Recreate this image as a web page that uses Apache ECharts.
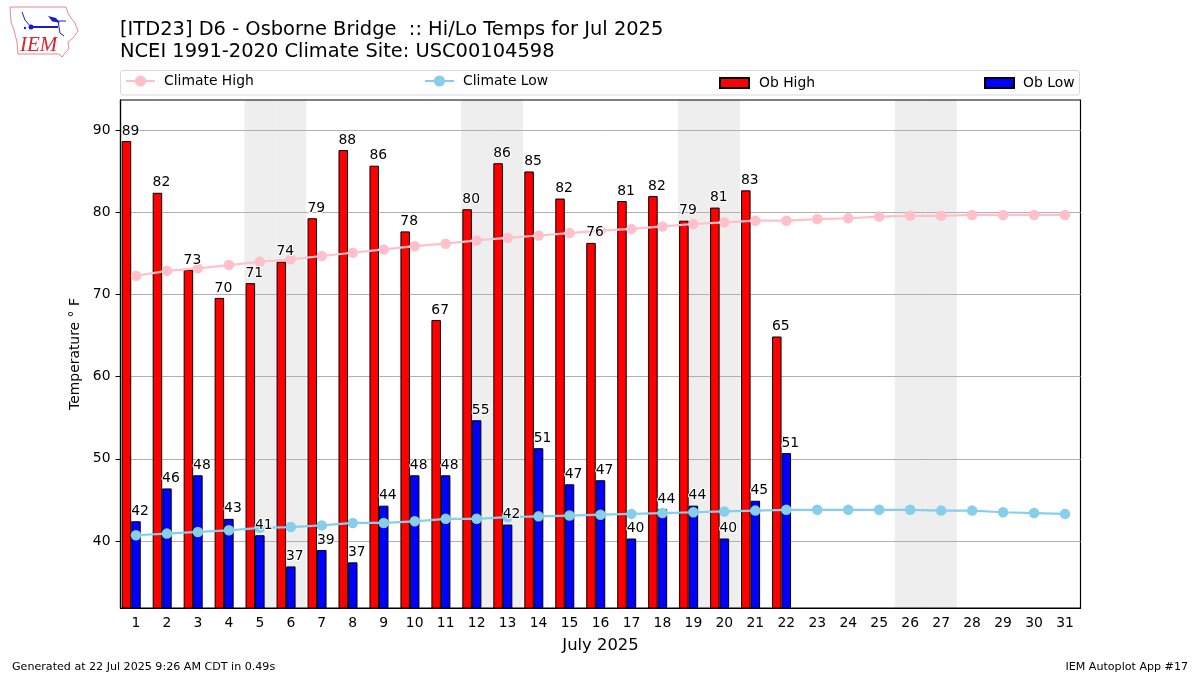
<!DOCTYPE html>
<html>
<head>
<meta charset="utf-8">
<script src="https://cdn.jsdelivr.net/npm/echarts@6/dist/echarts.min.js"></script>
<style>
html, body { margin: 0; padding: 0; background: #fff; }
#chart { width: 1200px; height: 675px; }
</style>
</head>
<body>
<div id="chart"></div>
<script>
var days = ['1','2','3','4','5','6','7','8','9','10','11','12','13','14','15','16','17','18','19','20','21','22','23','24','25','26','27','28','29','30','31'];
var obHigh = [88.7,82.4,73.0,69.6,71.4,74.0,79.3,87.6,85.7,77.7,66.9,80.4,86.0,85.0,81.7,76.3,81.4,82.0,79.0,80.6,82.7,64.9];
var obLow = [42.4,46.4,48.0,42.7,40.7,36.9,38.9,37.4,44.3,48.0,48.0,54.7,42.0,51.3,46.9,47.4,40.3,43.9,44.3,40.3,44.9,50.7];
var climateHigh = [72.3,72.9,73.2,73.6,74.0,74.3,74.7,75.1,75.5,75.9,76.2,76.6,76.9,77.2,77.5,77.8,78.0,78.3,78.6,78.8,79.0,79.0,79.2,79.3,79.5,79.6,79.6,79.7,79.7,79.7,79.7];
var climateLow = [40.7,40.9,41.1,41.3,41.6,41.7,41.9,42.2,42.2,42.4,42.7,42.7,42.9,43.0,43.1,43.2,43.3,43.4,43.5,43.6,43.7,43.8,43.8,43.8,43.8,43.8,43.7,43.7,43.5,43.4,43.3];
var weekendDays = ['5','6','12','13','19','20','26','27'];
var yTicks = [40,50,60,70,80,90];
var yMin = 31.84;
var yMax = 93.7;

var FONT = 'DejaVu Sans';
var BAR_WIDTH = 9.5;

// weekend bands: one full width bar per weekend day on a hidden category axis
var weekendValues = days.map(function(d) {
	return weekendDays.indexOf(d) >= 0 ? yMax : null;
});

// value labels sit above the climate lines, so they get their own invisible series
function labelSeries(name, values, dx) {
	return {
		name: name,
		type: 'scatter',
		data: values,
		symbolSize: 0,
		silent: true,
		z: 4,
		itemStyle: { opacity: 1 },
		label: {
			show: true,
			position: 'top',
			distance: 3,
			offset: [dx, 0],
			fontFamily: FONT,
			fontSize: 13.9,
			color: '#000',
			opacity: 1,
			textBorderColor: '#fff',
			textBorderWidth: 2,
			formatter: function(p) { return Math.round(p.value[1] === undefined ? p.value : p.value[1]); }
		}
	};
}

function legendItem(name, left, top, height, icon, textPad) {
	var item = {
		data: [{ name: name, icon: icon }],
		left: left,
		top: top,
		padding: 0,
		itemWidth: 29,
		itemHeight: height,
		itemGap: 0,
		selectedMode: false,
		textStyle: { fontFamily: FONT, fontSize: 13.9, color: '#000', padding: textPad }
	};
	return item;
}

var chart = echarts.init(document.getElementById('chart'), null, { renderer: 'canvas' });

chart.setOption({
	animation: false,
	backgroundColor: '#fff',
	title: {
		text: '[ITD23] D6 - Osborne Bridge  :: Hi/Lo Temps for Jul 2025\nNCEI 1991-2020 Climate Site: USC00104598',
		left: 120,
		top: 18.5,
		padding: 0,
		textStyle: { fontFamily: FONT, fontSize: 19.45, fontWeight: 'normal', color: '#000', lineHeight: 22.5 }
	},
	legend: [
		legendItem('Climate High', 125, 74, 14, undefined, [2, 0, 0, 4]),
		legendItem('Climate Low', 424, 74, 14, undefined, [2, 0, 0, 4]),
		legendItem('Ob High', 719, 76, 10, 'rect', [0, 0, 0, 5]),
		legendItem('Ob Low', 984, 76, 10, 'rect', [0, 0, 0, 4])
	],
	grid: {
		left: 120.5, top: 100, width: 960, height: 508,
		show: true,
		borderColor: '#000',
		borderWidth: 1.2,
		backgroundColor: 'transparent'
	},
	xAxis: [{
		type: 'category',
		data: days,
		name: 'July 2025',
		nameLocation: 'middle',
		nameGap: 30,
		nameTextStyle: { fontFamily: FONT, fontSize: 16.4, color: '#000' },
		axisLine: { lineStyle: { color: '#000', width: 1.2 } },
		axisTick: { alignWithLabel: true, length: 5, lineStyle: { color: '#000' } },
		axisLabel: { interval: 0, margin: 8, fontFamily: FONT, fontSize: 13.9, color: '#000' },
		splitLine: { show: false }
	}, {
		type: 'category',
		data: days,
		show: false
	}],
	yAxis: {
		type: 'value',
		min: yMin,
		max: yMax,
		name: 'Temperature ° F',
		nameLocation: 'middle',
		nameGap: 37,
		nameTextStyle: { fontFamily: FONT, fontSize: 13.9, color: '#000' },
		axisLine: { show: true, lineStyle: { color: '#000', width: 1.2 } },
		axisTick: { show: true, length: 5, lineStyle: { color: '#000' }, customValues: yTicks },
		axisLabel: { margin: 10, padding: [2, 0, 0, 0], fontFamily: FONT, fontSize: 13.9, color: '#000', customValues: yTicks },
		splitLine: { show: true, lineStyle: { color: '#b0b0b0', width: 1 } }
	},
	series: [{
		name: 'Weekend',
		type: 'bar',
		xAxisIndex: 1,
		data: weekendValues,
		barWidth: '100%',
		z: -1,
		silent: true,
		itemStyle: { color: '#eeeeee', borderColor: '#eeeeee', borderWidth: 1 }
	}, {
		name: 'Ob High',
		type: 'bar',
		data: obHigh,
		barWidth: BAR_WIDTH,
		barGap: 0,
		z: 2,
		itemStyle: { color: '#ff0000', borderColor: '#000', borderWidth: 1 }
	}, {
		name: 'Ob Low',
		type: 'bar',
		data: obLow,
		barWidth: BAR_WIDTH,
		barGap: 0,
		z: 2,
		itemStyle: { color: '#0000ff', borderColor: '#000', borderWidth: 1 }
	}, {
		// empty slot so the Ob Low bar sits on the tick like the original
		name: 'spacer',
		type: 'bar',
		data: [],
		barWidth: BAR_WIDTH,
		barGap: 0
	}, {
		name: 'Climate High',
		type: 'line',
		data: climateHigh,
		symbol: 'circle',
		symbolSize: 10.5,
		showAllSymbol: true,
		z: 3,
		lineStyle: { color: '#ffc0cb', width: 2.2 },
		itemStyle: { color: '#ffc0cb' }
	}, {
		name: 'Climate Low',
		type: 'line',
		data: climateLow,
		symbol: 'circle',
		symbolSize: 10.5,
		showAllSymbol: true,
		z: 3,
		lineStyle: { color: '#87ceeb', width: 2.2 },
		itemStyle: { color: '#87ceeb' }
	},
	labelSeries('High labels', obHigh, 4 - BAR_WIDTH),
	labelSeries('Low labels', obLow, 4)
	],
	graphic: [
		// legend box
		{ type: 'rect', z: -2, shape: { x: 120.5, y: 70.5, width: 959, height: 24.5, r: 2.5 }, style: { fill: '#fff', stroke: '#d9d9d9', lineWidth: 1 } },
		// footer
		{ type: 'text', x: 12, y: 662, style: { text: 'Generated at 22 Jul 2025 9:26 AM CDT in 0.49s', fontFamily: FONT, fontSize: 11.1, fill: '#000' } },
		{ type: 'text', x: 1188, y: 662, style: { text: 'IEM Autoplot App #17', fontFamily: FONT, fontSize: 11.1, fill: '#000', align: 'right' } },
		// IEM logo
		{ type: 'polygon', shape: { points: [[10,7],[66,7],[68,13],[71,18],[75,23],[78,31],[73,38],[68,42],[69,49],[65,53],[62,57],[59,54],[18,54],[17,42],[14,30],[11,22]] }, style: { fill: 'none', stroke: '#e58a8f', lineWidth: 1 } },
		{ type: 'text', x: 20, y: 35, style: { text: 'IEM', fontFamily: 'Liberation Serif', fontStyle: 'italic', fontSize: 21, fill: '#d9232e' } },
		{ type: 'polyline', shape: { points: [[31,27],[58,27]] }, style: { stroke: '#1a1ad6', lineWidth: 2, fill: 'none' } },
		{ type: 'circle', shape: { cx: 31, cy: 27, r: 2.5 }, style: { fill: '#1a1ad6' } },
		{ type: 'polyline', shape: { points: [[22,12],[25,20],[31,27]] }, style: { stroke: '#1a1ad6', lineWidth: 1, fill: 'none' } },
		{ type: 'polygon', shape: { points: [[48,16],[56,18],[60,23],[52,21]] }, style: { fill: '#1a1ad6' } },
		{ type: 'polyline', shape: { points: [[52,21],[66,21]] }, style: { stroke: '#1a1ad6', lineWidth: 1, fill: 'none' } },
		{ type: 'polyline', shape: { points: [[58,21],[60,33],[64,36]] }, style: { stroke: '#1a1ad6', lineWidth: 1, fill: 'none' } },
		{ type: 'circle', shape: { cx: 25, cy: 28, r: 1.2 }, style: { fill: '#1a1ad6' } }
	]
});

window.addEventListener('resize', function() {
	chart.resize();
});
</script>
</body>
</html>
